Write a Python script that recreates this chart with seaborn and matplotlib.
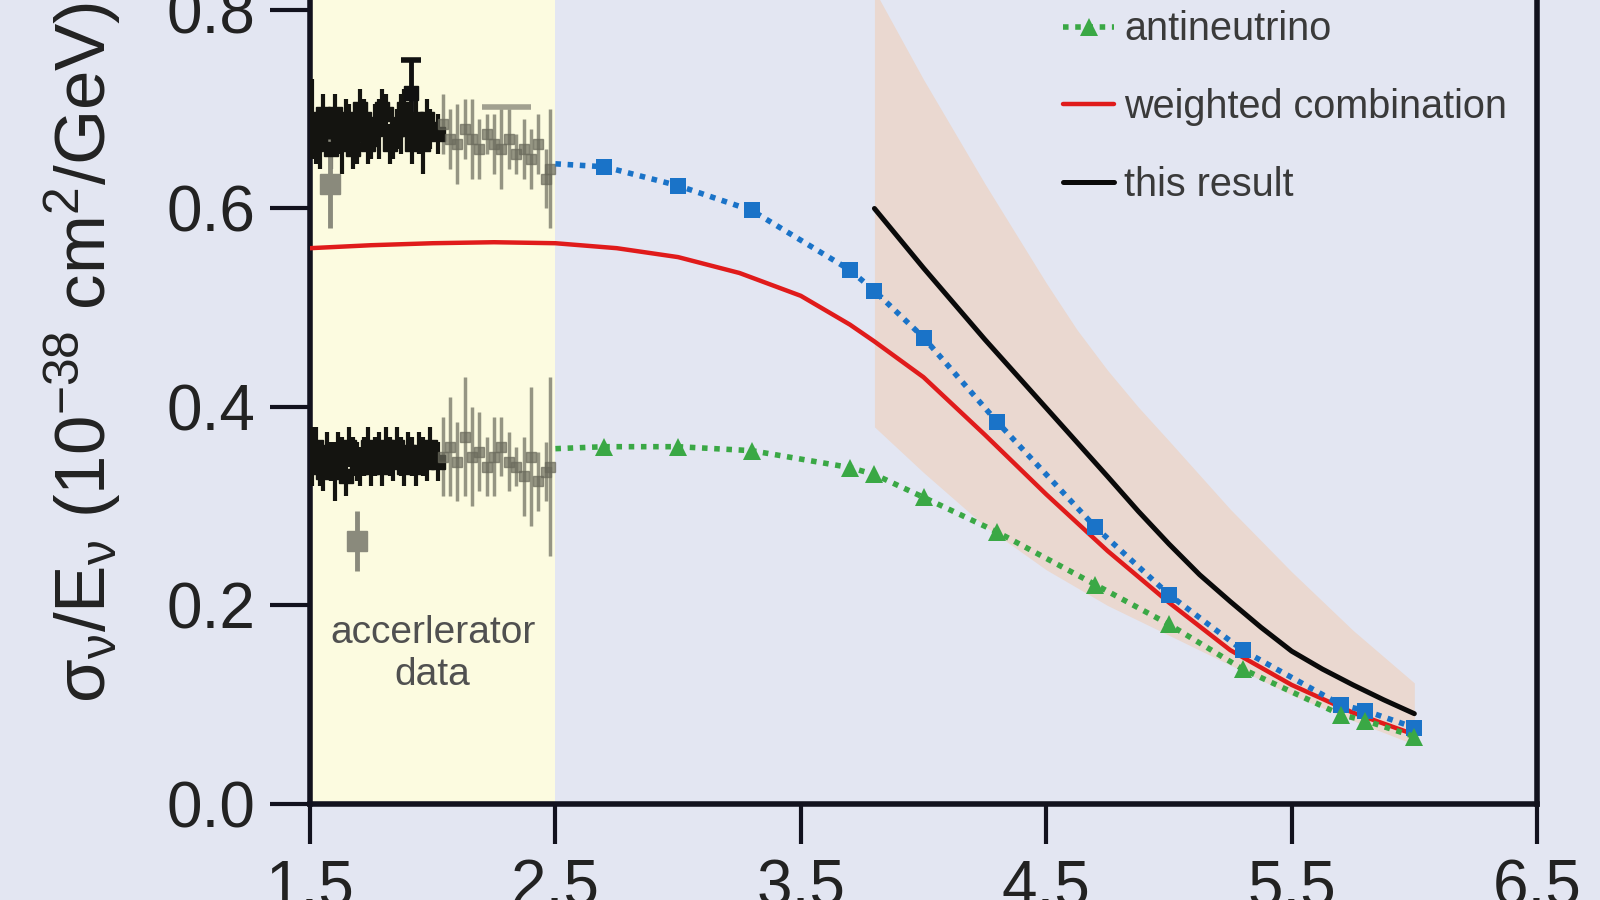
import numpy as np
import pandas as pd
import matplotlib
matplotlib.use('Agg')
import matplotlib.pyplot as plt
import seaborn as sns

# model curves (x = log scale energy axis as drawn)
nu_x = [2.5, 2.7, 3.0, 3.3, 3.7, 3.8, 4.0, 4.3, 4.7, 5.0, 5.3, 5.7, 5.8, 6.0]
nu_y = [0.645, 0.642, 0.623, 0.598, 0.538, 0.517, 0.470, 0.385, 0.279, 0.211, 0.155, 0.100, 0.094, 0.077]
anu_y = [0.358, 0.360, 0.360, 0.356, 0.339, 0.332, 0.309, 0.274, 0.221, 0.181, 0.136, 0.090, 0.084, 0.068]

comb_x = [1.5, 1.75, 2.0, 2.25, 2.5, 2.75, 3.0, 3.25, 3.5, 3.7, 3.8, 4.0, 4.25, 4.5, 4.75, 5.0, 5.25, 5.5, 5.75, 6.0]
comb_y = [0.560, 0.563, 0.565, 0.566, 0.565, 0.560, 0.551, 0.535, 0.512, 0.483, 0.466, 0.430, 0.372, 0.312, 0.255, 0.203, 0.155, 0.120, 0.092, 0.070]

res_x = [3.8, 4.0, 4.25, 4.5, 4.75, 4.875, 5.0, 5.125, 5.25, 5.375, 5.5, 5.625, 5.75, 5.875, 6.0]
res_y = [0.600, 0.540, 0.468, 0.399, 0.330, 0.295, 0.262, 0.231, 0.204, 0.178, 0.154, 0.136, 0.120, 0.105, 0.091]

band_x = [3.8, 4.0, 4.25, 4.5, 4.625, 4.75, 4.875, 5.0, 5.25, 5.5, 5.75, 6.0]
band_lo = [0.38, 0.334, 0.280, 0.236, 0.218, 0.200, 0.185, 0.170, 0.140, 0.110, 0.084, 0.060]
band_hi = [0.82, 0.73, 0.625, 0.525, 0.478, 0.437, 0.400, 0.366, 0.297, 0.234, 0.175, 0.122]

# accelerator data (dark = dense part, grey = sparse part)
acc_xa = [1.51, 1.54, 1.57, 1.60, 1.63, 1.66, 1.69, 1.72, 1.75, 1.78, 1.81, 1.84, 1.87, 1.90, 1.93, 1.96, 1.99, 2.02]
acc_xb = [1.525, 1.555, 1.585, 1.615, 1.645, 1.675, 1.705, 1.735, 1.765, 1.795, 1.825, 1.855, 1.885, 1.915, 1.945, 1.975]
acc_xg = [2.04, 2.07, 2.10, 2.13, 2.16, 2.19, 2.22, 2.25, 2.28, 2.31, 2.34, 2.37, 2.40, 2.43, 2.46, 2.48]

nu_acc_ya = [0.69, 0.67, 0.68, 0.695, 0.665, 0.685, 0.675, 0.69, 0.67, 0.68, 0.695, 0.67, 0.685, 0.68, 0.69, 0.665, 0.68, 0.675]
nu_acc_ea = [0.04, 0.03, 0.02, 0.02, 0.03, 0.02, 0.03, 0.02, 0.02, 0.03, 0.02, 0.02, 0.03, 0.02, 0.02, 0.03, 0.02, 0.02]
nu_acc_yb = [0.665, 0.695, 0.66, 0.675, 0.69, 0.66, 0.70, 0.665, 0.685, 0.70, 0.665, 0.68, 0.70, 0.665, 0.675, 0.69]
nu_acc_yg = [0.685, 0.67, 0.665, 0.68, 0.67, 0.66, 0.675, 0.665, 0.66, 0.67, 0.655, 0.66, 0.65, 0.665, 0.63, 0.64]
nu_acc_eg = [0.03, 0.03, 0.04, 0.03, 0.04, 0.03, 0.02, 0.03, 0.04, 0.03, 0.02, 0.03, 0.03, 0.03, 0.03, 0.06]

anu_acc_ya = [0.35, 0.34, 0.355, 0.335, 0.35, 0.36, 0.345, 0.35, 0.34, 0.355, 0.36, 0.345, 0.35, 0.355, 0.34, 0.35, 0.36, 0.345]
anu_acc_ea = [0.03, 0.02, 0.02, 0.03, 0.02, 0.02, 0.02, 0.02, 0.02, 0.02, 0.02, 0.02, 0.02, 0.02, 0.02, 0.02, 0.02, 0.02]
anu_acc_yb = [0.36, 0.335, 0.345, 0.355, 0.33, 0.35, 0.34, 0.36, 0.35, 0.34, 0.35, 0.36, 0.34, 0.35, 0.355, 0.345]
anu_acc_yg = [0.35, 0.36, 0.345, 0.37, 0.35, 0.355, 0.34, 0.35, 0.36, 0.345, 0.34, 0.33, 0.35, 0.325, 0.335, 0.34]
anu_acc_eg = [0.04, 0.05, 0.04, 0.06, 0.05, 0.04, 0.03, 0.04, 0.03, 0.03, 0.02, 0.04, 0.07, 0.03, 0.03, 0.09]

# odd points: capped black one, two grey boxes, one horizontal bar
odd_x = [1.91, 1.58, 1.69, 2.30]
odd_y = [0.716, 0.625, 0.265, 0.702]
odd_e = [0.034, 0.045, 0.03, 0.10]

xticks = [1.5, 2.5, 3.5, 4.5, 5.5, 6.5]
yticks = [0.0, 0.2, 0.4, 0.6, 0.8]
ytick_labels = ['0.0', '0.2', '0.4', '0.6', '0.8']

bg = '#e3e6f2'
sns.set_theme(style='ticks')
plt.rcParams['font.family'] = ['Liberation Sans', 'DejaVu Sans']
plt.rcParams['mathtext.fontset'] = 'custom'
plt.rcParams['mathtext.rm'] = 'Liberation Sans'
plt.rcParams['mathtext.it'] = 'Liberation Sans'

fig = plt.figure(figsize=(16, 9), dpi=100)
fig.patch.set_facecolor(bg)
ax = fig.add_axes([0.19375, 0.10667, 0.7669, 0.9043])
ax.set_facecolor(bg)

ax.axvspan(1.5, 2.5, color='#fcfbe0', lw=0, zorder=0)
ax.fill_between(band_x, band_lo, band_hi, color='#ead8d0', lw=0, zorder=1)

# accelerator cloud
dark = dict(fmt='s', color='#141410', ms=10, lw=3, zorder=3)
grey = dict(fmt='s', color='#6a6a5c', ms=7, lw=2.5, alpha=0.7, zorder=3)
ax.errorbar(acc_xa, nu_acc_ya, yerr=nu_acc_ea, **dark)
ax.errorbar(acc_xb, nu_acc_yb, yerr=0.02, **dark)
ax.errorbar(acc_xg, nu_acc_yg, yerr=nu_acc_eg, **grey)
ax.errorbar(acc_xa, anu_acc_ya, yerr=anu_acc_ea, **dark)
ax.errorbar(acc_xb, anu_acc_yb, yerr=0.02, **dark)
ax.errorbar(acc_xg, anu_acc_yg, yerr=anu_acc_eg, **grey)
ax.errorbar(odd_x[:1], odd_y[:1], yerr=odd_e[:1], fmt='s', color='#111111', ms=10, lw=3.5,
            capsize=7, capthick=4, zorder=3)
ax.errorbar(odd_x[1:3], odd_y[1:3], yerr=odd_e[1:3], fmt='s', color='#8a8a7c', ms=15, lw=3.5, zorder=3)
ax.errorbar(odd_x[3:], odd_y[3:], xerr=odd_e[3:], fmt='none', ecolor='#8a8a7c', lw=4, alpha=0.8, zorder=3)

sns.lineplot(x=comb_x, y=comb_y, color='#e01b1b', lw=3.2, sort=False, estimator=None,
             label='weighted combination', ax=ax, zorder=4)
sns.lineplot(x=nu_x, y=nu_y, color='#1a73c8', lw=4, linestyle=(0, (1, 1.2)), marker='s', ms=12,
             mew=0, markevery=list(range(1, len(nu_x))), sort=False, estimator=None,
             label='neutrino', ax=ax, zorder=5)
sns.lineplot(x=nu_x, y=anu_y, color='#3aa845', lw=4, linestyle=(0, (1, 1.2)), marker='^', ms=13,
             mew=0, markevery=list(range(1, len(nu_x))), sort=False, estimator=None,
             label='antineutrino', ax=ax, zorder=5)
sns.lineplot(x=res_x, y=res_y, color='#0a0a0a', lw=3.6, sort=False, estimator=None,
             label='this result', ax=ax, zorder=6)

handles, labels = ax.get_legend_handles_labels()
ax.get_legend().remove()
keep = ['antineutrino', 'weighted combination', 'this result']
hl = [(h, l) for h, l in zip(handles, labels) if l in keep]
hl.sort(key=lambda t: keep.index(t[1]))
leg = ax.legend([h for h, l in hl], [l for h, l in hl], loc='center left',
                bbox_to_anchor=(1063 / 1600, 1 - 107 / 900), bbox_transform=fig.transFigure,
                frameon=False, fontsize=28.5, borderpad=0, borderaxespad=0, handlelength=1.3,
                handletextpad=0.25, labelspacing=1.0)
for t in leg.get_texts():
    t.set_color('#3a3a3a')

ax.text(2.0, 0.151, 'accerlerator\ndata', ha='center', va='center', fontsize=28, color='#505050')

ax.set_xlim(1.5, 6.5)
ax.set_ylim(0, 0.82)
ax.set_xticks(xticks)
ax.set_xticklabels([str(v) for v in xticks])
ax.set_yticks(yticks)
ax.set_yticklabels(ytick_labels)
ax.tick_params(length=29, width=3, pad=10, labelsize=46, color='#12121e', labelcolor='#222222')
for s in ['left', 'bottom', 'right']:
    ax.spines[s].set_linewidth(4)
    ax.spines[s].set_color('#12121e')
    ax.spines[s].set_visible(True)
ax.spines['top'].set_visible(False)

ax.set_ylabel('σ$_\\mathrm{ν}$/E$_\\mathrm{ν}$ (10$^{-38}$ cm$^2$/GeV)', fontsize=51, color='#222222')
ax.yaxis.set_label_coords(-0.152, 0.555)
ax.set_xlabel('')

fig.savefig('out.png', dpi=100, facecolor=bg)
